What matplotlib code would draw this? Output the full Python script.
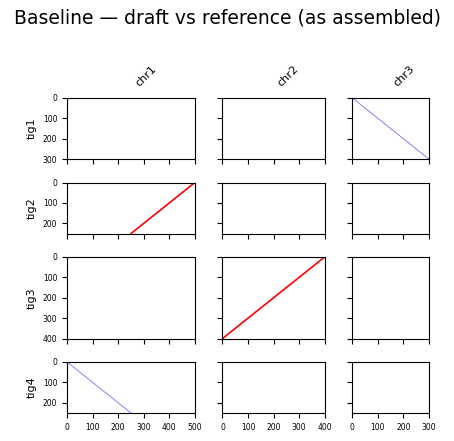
import matplotlib
matplotlib.use("Agg")
import matplotlib.pyplot as plt

# reference chromosomes and draft contigs with their lengths
chrom_names = ["chr1", "chr2", "chr3"]
chrom_lengths = [500, 400, 300]
tig_names = ["tig1", "tig2", "tig3", "tig4"]
tig_lengths = [300, 250, 400, 250]

# alignments: (tig, chrom, ref_start, ref_end, tig_start, tig_end, strand)
aln_tig = ["tig1", "tig2", "tig3", "tig4"]
aln_chrom = ["chr3", "chr1", "chr2", "chr1"]
aln_ref_start = [0, 250, 0, 0]
aln_ref_end = [300, 500, 400, 250]
aln_tig_start = [0, 250, 400, 0]
aln_tig_end = [300, 0, 0, 250]
aln_strand = ["+", "-", "-", "+"]

STRAND_STYLE = {
    "+": {"color": "#7070ff", "lw": 0.6},
    "-": {"color": "red", "lw": 1.2},
}


def main():
    fig = plt.figure(figsize=(4.54, 4.41), dpi=100)
    gs = fig.add_gridspec(len(tig_names), len(chrom_names),
                          width_ratios=chrom_lengths, height_ratios=tig_lengths,
                          left=0.1476, right=0.945, top=0.778, bottom=0.0635,
                          wspace=0.269, hspace=0.381)

    for i, tig in enumerate(tig_names):
        for j, chrom in enumerate(chrom_names):
            ax = fig.add_subplot(gs[i, j])
            for k in range(len(aln_tig)):
                if aln_tig[k] == tig and aln_chrom[k] == chrom:
                    st = STRAND_STYLE[aln_strand[k]]
                    ax.plot([aln_ref_start[k], aln_ref_end[k]],
                            [aln_tig_start[k], aln_tig_end[k]],
                            color=st["color"], lw=st["lw"])
            ax.set_xlim(0, chrom_lengths[j])
            ax.set_ylim(tig_lengths[i], 0)
            ax.set_xticks(range(0, chrom_lengths[j] + 1, 100))
            ax.set_yticks(range(0, tig_lengths[i] + 1, 100))
            ax.tick_params(labelsize=5.5, length=3.5, width=0.8)
            if i != len(tig_names) - 1:
                ax.set_xticklabels([])
            if j != 0:
                ax.set_yticklabels([])
            else:
                ax.set_ylabel(tig, fontsize=8)
            if i == 0:
                ax.text(0.52, 1.16, chrom, transform=ax.transAxes,
                        rotation=45, ha="left", va="bottom", fontsize=8)

    fig.suptitle("Baseline \u2014 draft vs reference (as assembled)",
                 fontsize=13.5, y=0.959, va="center")
    fig.savefig("out.png", dpi=100)


if __name__ == "__main__":
    main()
